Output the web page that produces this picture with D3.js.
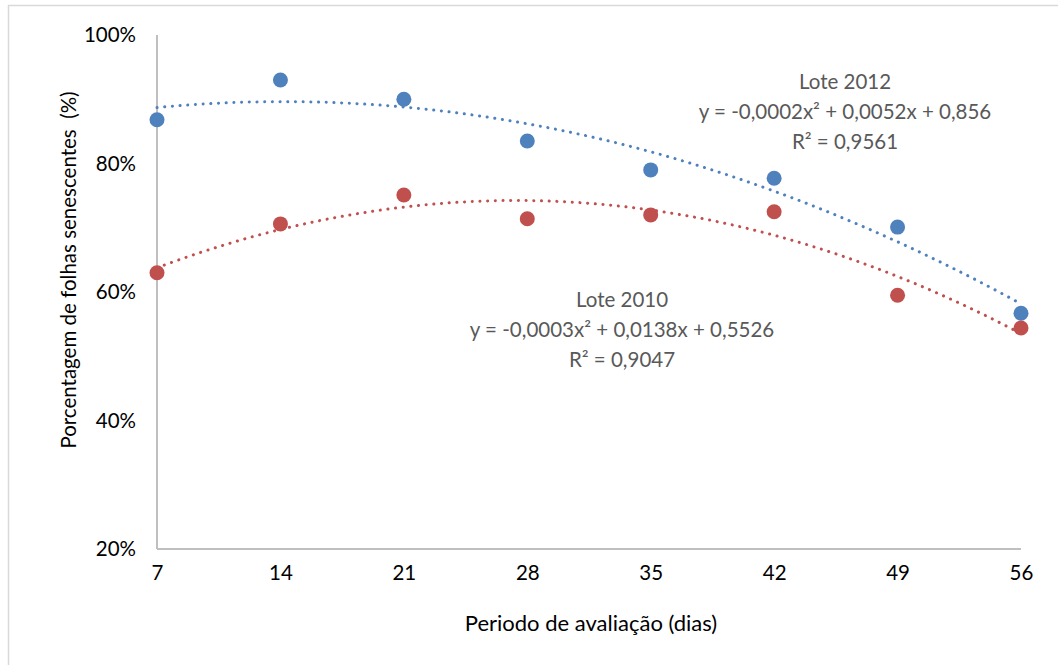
<!DOCTYPE html>
<html>
<head>
<meta charset="utf-8">
<script src="https://cdn.jsdelivr.net/npm/d3@7"></script>
<style>
  body { margin: 0; background: #fff; }
  text { font-family: Lato, "Open Sans", sans-serif; }
</style>
</head>
<body>
<div id="chart"></div>
<script>
// dias de avaliacao
var dias = [7, 14, 21, 28, 35, 42, 49, 56];
// porcentagem de folhas senescentes
var lote2012 = [0.868, 0.930, 0.900, 0.835, 0.790, 0.777, 0.701, 0.567];
var lote2010 = [0.630, 0.706, 0.751, 0.714, 0.720, 0.725, 0.595, 0.544];
var yTicks = [0.2, 0.4, 0.6, 0.8, 1.0];
var labels2012 = ["Lote 2012", "y = -0,0002x\u00b2 + 0,0052x + 0,856", "R\u00b2 = 0,9561"];
var labels2010 = ["Lote 2010", "y = -0,0003x\u00b2 + 0,0138x + 0,5526", "R\u00b2 = 0,9047"];

var width = 1058, height = 665;
var margin = {top: 35, right: 37, bottom: 116, left: 157};

var svg = d3.select("#chart").append("svg")
    .attr("width", width)
    .attr("height", height);

// outer chart border
svg.append("rect")
    .attr("x", 8.5).attr("y", 5.5)
    .attr("width", width).attr("height", height)
    .attr("fill", "none")
    .attr("stroke", "#d9d9d9")
    .attr("stroke-width", 1.5);

var x = d3.scaleLinear()
    .domain([7, 56])
    .range([margin.left, width - margin.right]);

var y = d3.scaleLinear()
    .domain([0.2, 1.0])
    .range([height - margin.bottom, margin.top]);

// axes
var xAxis = svg.append("g")
    .attr("transform", "translate(0," + (height - margin.bottom) + ")")
    .call(d3.axisBottom(x).tickValues(dias).tickSize(0).tickPadding(16).tickFormat(d3.format("d")));
xAxis.select(".domain").remove();
xAxis.selectAll("text").attr("font-size", 20.5).attr("fill", "#000")
    .style("font-family", "Lato, 'Open Sans', sans-serif");

var yAxis = svg.append("g")
    .attr("transform", "translate(" + margin.left + ",0)")
    .call(d3.axisLeft(y).tickValues(yTicks).tickSize(0).tickPadding(21).tickFormat(d3.format(".0%")));
yAxis.select(".domain").remove();
yAxis.selectAll("text").attr("font-size", 20.5).attr("fill", "#000")
    .style("font-family", "Lato, 'Open Sans', sans-serif");

svg.append("line")
    .attr("x1", x(7)).attr("x2", x(7))
    .attr("y1", y(1.0)).attr("y2", y(0.2))
    .attr("stroke", "#bfbfbf").attr("stroke-width", 2);
svg.append("line")
    .attr("x1", x(7)).attr("x2", x(56))
    .attr("y1", y(0.2)).attr("y2", y(0.2))
    .attr("stroke", "#bfbfbf").attr("stroke-width", 2);

// axis titles
svg.append("text")
    .attr("x", 591).attr("y", 631)
    .attr("text-anchor", "middle")
    .attr("font-size", 22)
    .text("Periodo de avaliação (dias)");

svg.append("text")
    .attr("transform", "translate(76,270) rotate(-90)")
    .attr("text-anchor", "middle")
    .attr("font-size", 20.5)
    .style("white-space", "pre")
    .text("Porcentagem de folhas senescentes  (%)");

// quadratic least squares trend
function quadFit(xs, ys) {
    var n = xs.length, s = [0, 0, 0, 0, 0], t = [0, 0, 0];
    for (var i = 0; i < n; i++) {
        for (var k = 0; k < 5; k++) s[k] += Math.pow(xs[i], k);
        for (var k = 0; k < 3; k++) t[k] += ys[i] * Math.pow(xs[i], k);
    }
    var A = [[s[0], s[1], s[2], t[0]], [s[1], s[2], s[3], t[1]], [s[2], s[3], s[4], t[2]]];
    for (var c = 0; c < 3; c++) {
        for (var r = c + 1; r < 3; r++) {
            var f = A[r][c] / A[c][c];
            for (var j = c; j < 4; j++) A[r][j] -= f * A[c][j];
        }
    }
    var b = [0, 0, 0];
    for (var r = 2; r >= 0; r--) {
        var v = A[r][3];
        for (var j = r + 1; j < 3; j++) v -= A[r][j] * b[j];
        b[r] = v / A[r][r];
    }
    return function (xv) { return b[0] + b[1] * xv + b[2] * xv * xv; };
}

var line = d3.line()
    .x(function (d) { return x(d[0]); })
    .y(function (d) { return y(d[1]); });

function drawSeries(vals, color) {
    var f = quadFit(dias, vals);
    var pts = d3.range(7, 56.01, 0.5).map(function (d) { return [d, f(d)]; });
    svg.append("path")
        .datum(pts)
        .attr("d", line)
        .attr("fill", "none")
        .attr("stroke", color)
        .attr("stroke-width", 3)
        .attr("stroke-linecap", "round")
        .attr("stroke-dasharray", "0.1 7.6");

    svg.append("g")
        .selectAll("circle")
        .data(vals)
        .enter()
        .append("circle")
        .attr("cx", function (d, i) { return x(dias[i]); })
        .attr("cy", function (d) { return y(d); })
        .attr("r", 7.5)
        .attr("fill", color);
}

drawSeries(lote2012, "#4f81bd");
drawSeries(lote2010, "#c0504d");

function drawLabel(lines, cx, y0) {
    svg.append("g")
        .selectAll("text")
        .data(lines)
        .enter()
        .append("text")
        .attr("x", cx)
        .attr("y", function (d, i) { return y0 + i * 30; })
        .attr("text-anchor", "middle")
        .attr("font-size", 20.5)
        .attr("fill", "#595959")
        .text(function (d) { return d; });
}

drawLabel(labels2012, 845, 89);
drawLabel(labels2010, 622, 307);
</script>
</body>
</html>
